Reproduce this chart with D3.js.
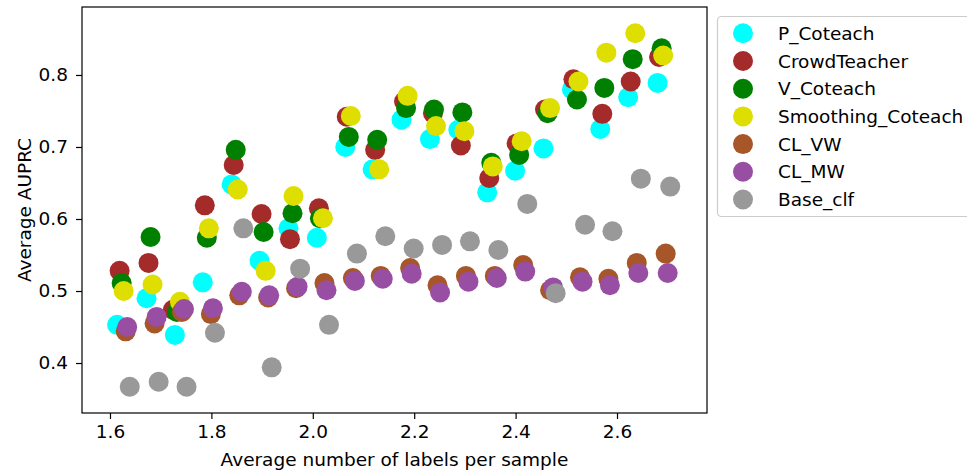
<!DOCTYPE html>
<html>
<head>
<meta charset="utf-8">
<script src="https://cdn.jsdelivr.net/npm/d3@7/dist/d3.min.js"></script>
<style>
  html, body { margin: 0; padding: 0; background: #fff; }
  svg { display: block; font-family: "DejaVu Sans", sans-serif; }
</style>
</head>
<body>
<svg id="chart" width="967" height="474"></svg>
<script>
// Average AUPRC vs. average number of labels per sample, per method
const seriesNames = ["P_Coteach", "CrowdTeacher", "V_Coteach", "Smoothing_Coteach", "CL_VW", "CL_MW", "Base_clf"];
const seriesColors = ["#00ffff", "#a52a2a", "#008000", "#dede00", "#a65628", "#984ea3", "#999999"];

const pCoteachX = [1.614,1.672,1.728,1.783,1.840,1.895,1.952,2.008,2.064,2.118,2.175,2.231,2.287,2.344,2.399,2.455,2.511,2.567,2.622,2.680];
const pCoteachY = [0.453,0.490,0.439,0.512,0.648,0.542,0.587,0.574,0.700,0.669,0.738,0.711,0.724,0.637,0.667,0.698,0.780,0.725,0.769,0.789];

const crowdTeacherX = [1.619,1.676,1.724,1.787,1.844,1.899,1.955,2.012,2.067,2.123,2.180,2.237,2.292,2.348,2.402,2.458,2.514,2.571,2.627,2.683];
const crowdTeacherY = [0.528,0.539,0.474,0.619,0.675,0.607,0.572,0.615,0.742,0.696,0.763,0.747,0.702,0.657,0.705,0.752,0.794,0.746,0.791,0.825];

const vCoteachX = [1.623,1.680,1.732,1.791,1.848,1.903,1.960,2.014,2.071,2.127,2.184,2.239,2.295,2.352,2.407,2.463,2.521,2.575,2.631,2.688];
const vCoteachY = [0.511,0.575,0.471,0.574,0.696,0.582,0.608,0.601,0.714,0.710,0.754,0.752,0.748,0.678,0.689,0.747,0.766,0.782,0.822,0.837];

const smoothingX = [1.627,1.684,1.738,1.795,1.852,1.907,1.962,2.020,2.075,2.131,2.187,2.243,2.299,2.355,2.412,2.468,2.524,2.579,2.636,2.691];
const smoothingY = [0.500,0.509,0.485,0.587,0.641,0.528,0.632,0.601,0.743,0.669,0.771,0.729,0.722,0.673,0.708,0.754,0.791,0.831,0.858,0.827];

const clVwX = [1.631,1.688,1.742,1.799,1.855,1.912,1.967,2.023,2.079,2.134,2.192,2.246,2.302,2.359,2.415,2.468,2.527,2.583,2.639,2.696];
const clVwY = [0.444,0.455,0.471,0.468,0.494,0.491,0.504,0.511,0.518,0.521,0.532,0.508,0.521,0.521,0.536,0.501,0.519,0.517,0.539,0.552];

const clMwX = [1.634,1.692,1.746,1.803,1.860,1.914,1.970,2.027,2.083,2.138,2.195,2.251,2.307,2.363,2.419,2.474,2.532,2.586,2.642,2.700];
const clMwY = [0.450,0.464,0.475,0.476,0.499,0.494,0.506,0.501,0.514,0.517,0.524,0.498,0.513,0.518,0.527,0.505,0.513,0.508,0.525,0.525];

const baseClfX = [1.639,1.696,1.751,1.807,1.863,1.919,1.975,2.032,2.087,2.143,2.199,2.255,2.310,2.366,2.423,2.479,2.537,2.591,2.647,2.705];
const baseClfY = [0.367,0.374,0.367,0.442,0.587,0.394,0.531,0.453,0.552,0.576,0.559,0.564,0.569,0.557,0.621,0.497,0.592,0.583,0.656,0.645];

const xTicks = [1.6, 1.8, 2.0, 2.2, 2.4, 2.6];
const yTicks = [0.4, 0.5, 0.6, 0.7, 0.8];

const seriesX = [pCoteachX, crowdTeacherX, vCoteachX, smoothingX, clVwX, clMwX, baseClfX];
const seriesY = [pCoteachY, crowdTeacherY, vCoteachY, smoothingY, clVwY, clMwY, baseClfY];

const series = seriesNames.map((name, i) => ({
  name,
  color: seriesColors[i],
  points: seriesX[i].map((x, j) => ({ x, y: seriesY[i][j] }))
}));

const svg = d3.select("#chart");
const plot = { left: 82, right: 707, top: 7, bottom: 413 };

const x = d3.scaleLinear().domain([1.5448, 2.7775]).range([plot.left, plot.right]);
const y = d3.scaleLinear().domain([0.3306, 0.8944]).range([plot.bottom, plot.top]);

const fontSize = 18.5;
const markerR = 10;

// markers, drawn series by series so later methods sit on top
const marks = svg.append("g");
series.forEach(s => {
  marks.append("g")
    .selectAll("circle")
    .data(s.points)
    .join("circle")
    .attr("cx", d => x(d.x))
    .attr("cy", d => y(d.y))
    .attr("r", markerR)
    .attr("fill", s.color);
});

// axes
const xAxis = svg.append("g")
  .attr("transform", `translate(0,${plot.bottom})`)
  .call(d3.axisBottom(x).tickValues(xTicks).tickFormat(d3.format(".1f")).tickSize(6).tickPadding(6));
const yAxis = svg.append("g")
  .attr("transform", `translate(${plot.left},0)`)
  .call(d3.axisLeft(y).tickValues(yTicks).tickFormat(d3.format(".1f")).tickSize(6).tickPadding(8));

[xAxis, yAxis].forEach(g => {
  g.select(".domain").remove();
  g.selectAll("line").attr("stroke", "#000").attr("stroke-width", 1.2);
  g.selectAll("text").attr("font-size", fontSize).attr("fill", "#000")
    .attr("font-family", "DejaVu Sans, sans-serif");
});

// frame
svg.append("rect")
  .attr("x", plot.left).attr("y", plot.top)
  .attr("width", plot.right - plot.left).attr("height", plot.bottom - plot.top)
  .attr("fill", "none").attr("stroke", "#000").attr("stroke-width", 1.2);

// axis titles
svg.append("text")
  .attr("x", (plot.left + plot.right) / 2).attr("y", 466)
  .attr("text-anchor", "middle").attr("font-size", fontSize)
  .text("Average number of labels per sample");
svg.append("text")
  .attr("transform", `translate(31,${(plot.top + plot.bottom) / 2}) rotate(-90)`)
  .attr("text-anchor", "middle").attr("font-size", fontSize)
  .text("Average AUPRC");

// legend
const legend = svg.append("g");
legend.append("rect")
  .attr("x", 717.5).attr("y", 16.5).attr("width", 262).attr("height", 200)
  .attr("rx", 4).attr("fill", "#fff").attr("stroke", "#cccccc").attr("stroke-width", 1.2);
series.forEach((s, i) => {
  const cy = 33.3 + i * 27.7;
  legend.append("circle").attr("cx", 743).attr("cy", cy).attr("r", markerR).attr("fill", s.color);
  legend.append("text").attr("x", 778).attr("y", cy).attr("dy", "0.36em")
    .attr("font-size", fontSize).text(s.name);
});
</script>
</body>
</html>
